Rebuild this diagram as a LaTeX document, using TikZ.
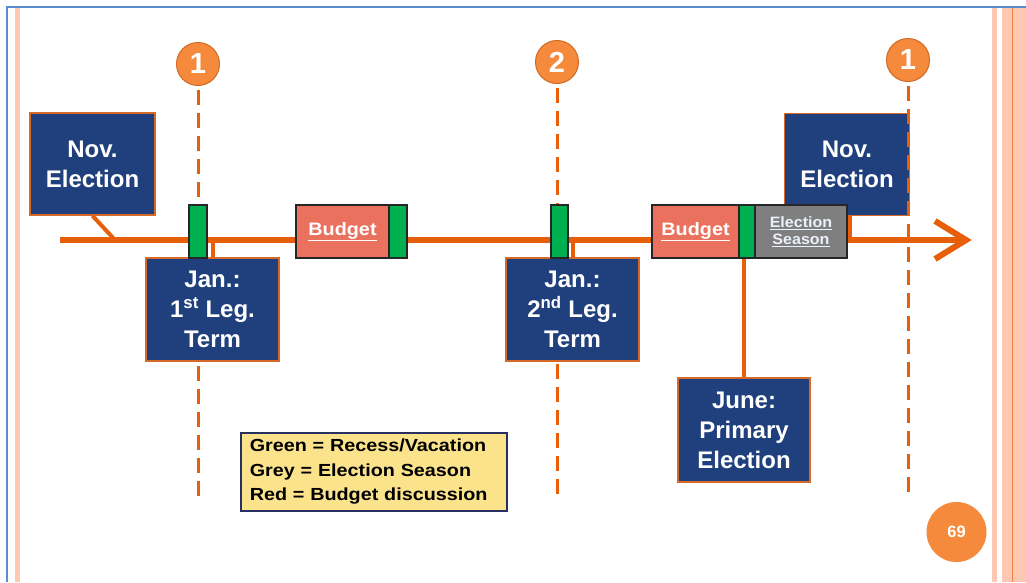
\documentclass[tikz,border=0pt]{standalone}
\usepackage{fontspec}
\usetikzlibrary{calc}
\setmainfont{Liberation Sans}
\newfontfamily\widefont[FakeStretch=1.1]{Liberation Sans}
\newfontfamily\keyfont[FakeStretch=1.13]{Liberation Sans}
\newfontfamily\smallwide[FakeStretch=1.07]{Liberation Sans}
\definecolor{navy}{RGB}{31,64,124}
\definecolor{boxedge}{RGB}{214,105,40}
\definecolor{lineorange}{RGB}{231,95,11}
\definecolor{markorange}{RGB}{245,138,61}
\definecolor{markedge}{RGB}{210,105,35}
\definecolor{budgetred}{RGB}{233,113,94}
\definecolor{recessgreen}{RGB}{0,176,80}
\definecolor{seasongrey}{RGB}{127,127,127}
\definecolor{legendfill}{RGB}{251,227,140}
\definecolor{legendedge}{RGB}{39,48,95}
\definecolor{frameblue}{RGB}{91,139,208}
\definecolor{stripepink}{RGB}{252,200,178}
\definecolor{stripeorange}{RGB}{240,128,64}
\definecolor{paletext}{RGB}{235,240,250}
\tikzset{
  navybox/.style={draw=boxedge, line width=1.5pt, fill=navy, text=white,
    inner sep=0pt, align=center,
    font=\bfseries\fontsize{24}{30}\selectfont},
  barbox/.style={draw=black!85, line width=1.5pt, inner sep=0pt,
    minimum height=53pt},
  greenbar/.style={barbox, fill=recessgreen, minimum width=18pt},
  budgetbox/.style={barbox, fill=budgetred, text=white,
    font=\widefont\bfseries\fontsize{18}{22}\selectfont},
  seasonbox/.style={barbox, fill=seasongrey, text=paletext, align=center,
    font=\smallwide\bfseries\fontsize{15}{18}\selectfont},
  marker/.style={circle, fill=markorange, draw=markedge, line width=1pt,
    minimum size=43pt, inner sep=0pt, text=white,
    font=\bfseries\fontsize{29}{29}\selectfont},
  dashline/.style={draw=lineorange, line width=3pt, dash pattern=on 15pt off 8pt},
  connector/.style={draw=lineorange, line width=4pt},
  timeline/.style={draw=lineorange, line width=6pt},
}
\begin{document}
\begin{tikzpicture}[x=1pt,y=-1pt]
% page and slide frame
\useasboundingbox (0,0) rectangle (1026,582);
\fill[white] (0,0) rectangle (1026,582);
\draw[frameblue, line width=2pt] (7,582) -- (7,7) -- (1026,7);
\fill[stripepink] (15,8) rectangle (20,582);
\fill[stripepink] (992,8) rectangle (997,582);
\fill[stripepink] (1002,8) rectangle (1026,582);
\draw[stripeorange, line width=1.5pt] (1012.5,8) -- (1012.5,582);

% numbered session markers with their dashed guide lines
\node[marker] (m1) at (198,64) {1};
\node[marker] (m2) at (557,62) {2};
\node[marker] (m3) at (908,60) {1};
\coordinate (e1) at (198,498);
\coordinate (e2) at (557,498);
\coordinate (e3) at (908,498);
\draw[dashline] (m1.south) ++(0,4) -- (e1);
\draw[dashline] (m2.south) ++(0,4) -- (e2);

% timeline
\coordinate (tstart) at (60,240);
\coordinate (tend) at (966,240);
\draw[timeline] (tstart) -- (tend);
\draw[draw=lineorange, line width=6pt, line join=miter]
  ($(tend)+(-31,-19)$) -- (tend) -- ($(tend)+(-31,19)$);

% callout boxes
\node[navybox, minimum width=125pt, minimum height=102pt] (nov1) at (92.5,164) {Nov.\\Election};
\node[navybox, minimum width=125pt, minimum height=102pt] (nov2) at (847,164.5) {Nov.\\Election};
\draw[dashline] (m3.south) ++(0,4) -- (e3);

\coordinate (c1) at (115,240);
\draw[connector] (c1) -- (nov1.south);
\coordinate (c2) at (850,240);
\draw[connector] (c2) -- (c2 |- nov2.south);

\node[navybox, minimum width=133pt, minimum height=103pt] (jan1) at (212.5,309.5)
  {Jan.:\\1\textsuperscript{st} Leg.\\Term};
\node[navybox, minimum width=133pt, minimum height=103pt] (jan2) at (572.5,309.5)
  {Jan.:\\2\textsuperscript{nd} Leg.\\Term};
\node[navybox, minimum width=132pt, minimum height=104pt] (june) at (744,430)
  {June:\\Primary\\Election};
\draw[connector] (jan1.north) -- (jan1.north |- tstart);
\draw[connector] (jan2.north) -- (jan2.north |- tstart);

% calendar blocks on the timeline
\node[greenbar] (g1) at (198,231.5) {};
\node[budgetbox, minimum width=93pt] (b1) at (342.5,231.5) {\underline{Budget}};
\node[greenbar] (g2) at (398,231.5) {};
\node[greenbar, minimum width=17pt] (g3) at (559.5,231.5) {};
\node[budgetbox, minimum width=87pt] (b2) at (695.5,231.5) {\underline{Budget}};
\node[seasonbox, minimum width=92pt] (s1) at (801,231.5)
  {\underline{Election}\\[-1pt]\underline{Season}};
\node[greenbar, minimum width=16pt] (g4) at (747,231.5) {};
\draw[connector] (june.north) -- (june.north |- g4.south);

% colour key
\node[draw=legendedge, line width=1.5pt, fill=legendfill, anchor=north west,
  minimum width=266pt, minimum height=78pt, inner xsep=9pt, inner ysep=0pt,
  align=left, text=black, text width=248pt,
  font=\keyfont\bfseries\fontsize{17.5}{24.5}\selectfont] (key) at (240,432)
  {Green = Recess/Vacation\\Grey = Election Season\\Red = Budget discussion};

% page number
\node[circle, fill=markorange, minimum size=60pt, inner sep=0pt, text=white,
  font=\bfseries\fontsize{16.5}{16.5}\selectfont] (page) at (956.5,532) {69};
\end{tikzpicture}
\end{document}
